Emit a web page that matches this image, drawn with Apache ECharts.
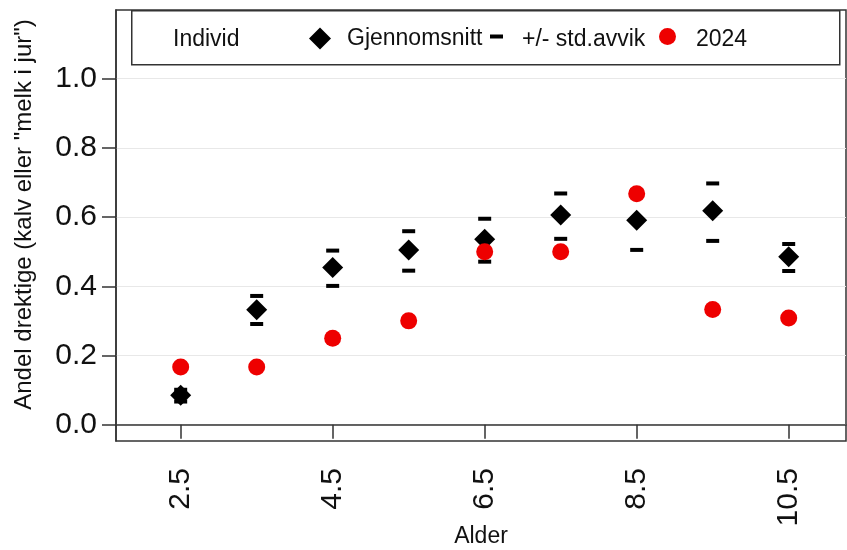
<!DOCTYPE html>
<html>
<head>
<meta charset="utf-8">
<script src="https://cdn.jsdelivr.net/npm/echarts@6/dist/echarts.min.js"></script>
<style>
html,body{margin:0;padding:0;background:#fff;}
#c{width:847px;height:550px;}
</style>
</head>
<body>
<div id="c"></div>
<script>
const ages = [2.5, 3.5, 4.5, 5.5, 6.5, 7.5, 8.5, 9.5, 10.5];
const meanVals = [0.085, 0.332, 0.454, 0.505, 0.536, 0.606, 0.591, 0.618, 0.485];
const upperVals = [0.101, 0.372, 0.503, 0.559, 0.595, 0.668, 0.677, 0.697, 0.522];
const lowerVals = [0.067, 0.291, 0.401, 0.445, 0.471, 0.537, 0.505, 0.531, 0.444];
const vals2024 = [0.167, 0.167, 0.25, 0.30, 0.50, 0.50, 0.667, 0.333, 0.308];
const xTicks = [2.5, 4.5, 6.5, 8.5, 10.5];
const yTicks = [0, 0.2, 0.4, 0.6, 0.8, 1.0];

const FONT = '"Liberation Sans", Arial, sans-serif';
const chart = echarts.init(document.getElementById('c'), null, {renderer: 'canvas'});

const meanData = ages.map((a, i) => [a, meanVals[i]]);
const stdData = ages.map((a, i) => [a, upperVals[i]]).concat(ages.map((a, i) => [a, lowerVals[i]]));
const data2024 = ages.map((a, i) => [a, vals2024[i]]);

function legendText(leftPad) {
  return {
    fontSize: 23, color: '#111', fontFamily: FONT,
    rich: {t: {fontSize: 23, color: '#111', fontFamily: FONT, padding: [6, 0, 0, leftPad]}}
  };
}

chart.setOption({
  animation: false,
  backgroundColor: '#fff',
  textStyle: {fontFamily: FONT},
  grid: {
    left: 116, top: 10, right: 1, bottom: 109,
    outerBoundsMode: 'none',
    containLabel: false,
    show: true, borderColor: '#333', borderWidth: 1.5, backgroundColor: 'transparent'
  },
  xAxis: {
    type: 'value',
    min: 1.649, max: 11.254,
    name: 'Alder',
    nameLocation: 'middle',
    nameGap: 84,
    nameMoveOverlap: false,
    nameTextStyle: {fontSize: 23, color: '#111', fontFamily: FONT},
    axisLine: {show: true, lineStyle: {color: '#333', width: 1.5}},
    axisTick: {show: true, length: 14, customValues: xTicks, lineStyle: {color: '#333', width: 1.5}},
    axisLabel: {
      customValues: xTicks, rotate: 90, margin: 27, fontSize: 30, color: '#111', fontFamily: FONT,
      formatter: v => v.toFixed(1)
    },
    splitLine: {show: false}
  },
  yAxis: {
    type: 'value',
    min: -0.047, max: 1.198,
    name: 'Andel drektige (kalv eller "melk i jur")',
    nameLocation: 'middle',
    nameGap: 80,
    nameMoveOverlap: false,
    nameTextStyle: {fontSize: 24, color: '#111', fontFamily: FONT, padding: [0, 0, 0, 22]},
    axisLine: {show: true, lineStyle: {color: '#333', width: 1.5}},
    axisTick: {show: true, length: 14, customValues: yTicks, lineStyle: {color: '#333', width: 1.5}},
    axisLabel: {
      customValues: yTicks, margin: 19, fontSize: 30, color: '#111', fontFamily: FONT,
      formatter: v => v.toFixed(1)
    },
    splitLine: {show: true, customValues: yTicks, lineStyle: {color: '#e8e8e8', width: 1.2}}
  },
  legend: [
    {
      data: ['Gjennomsnitt'], left: 309, top: 27, padding: 0,
      itemWidth: 22, itemHeight: 22, icon: 'diamond',
      textStyle: {fontSize: 23, color: '#111', fontFamily: FONT, padding: [0, 0, 0, 11]}
    },
    {
      data: ['+/- std.avvik'], left: 490, top: 28, padding: 0,
      itemWidth: 13, itemHeight: 4, icon: 'rect',
      formatter: '{t|{name}}',
      textStyle: legendText(14)
    },
    {
      data: ['2024'], left: 659, top: 28, padding: 0,
      itemWidth: 17, itemHeight: 17, icon: 'circle',
      formatter: '{t|{name}}',
      textStyle: legendText(15)
    }
  ],
  graphic: [
    {
      type: 'rect', left: 131, top: 10, z: 100,
      shape: {width: 708, height: 54},
      style: {fill: 'transparent', stroke: '#333', lineWidth: 1.5}
    },
    {
      type: 'text', left: 173, top: 28, z: 100,
      style: {text: 'Individ', fontSize: 23, fill: '#111', fontFamily: FONT}
    }
  ],
  series: [
    {
      name: 'Gjennomsnitt', type: 'scatter', data: meanData,
      symbol: 'diamond', symbolSize: 21,
      itemStyle: {color: '#000', opacity: 1}, z: 2
    },
    {
      name: '+/- std.avvik', type: 'scatter', data: stdData,
      symbol: 'rect', symbolSize: [13, 4],
      itemStyle: {color: '#000', opacity: 1}, z: 3
    },
    {
      name: '2024', type: 'scatter', data: data2024,
      symbol: 'circle', symbolSize: 17,
      itemStyle: {color: '#ee0000', opacity: 1}, z: 4
    }
  ]
});
</script>
</body>
</html>
